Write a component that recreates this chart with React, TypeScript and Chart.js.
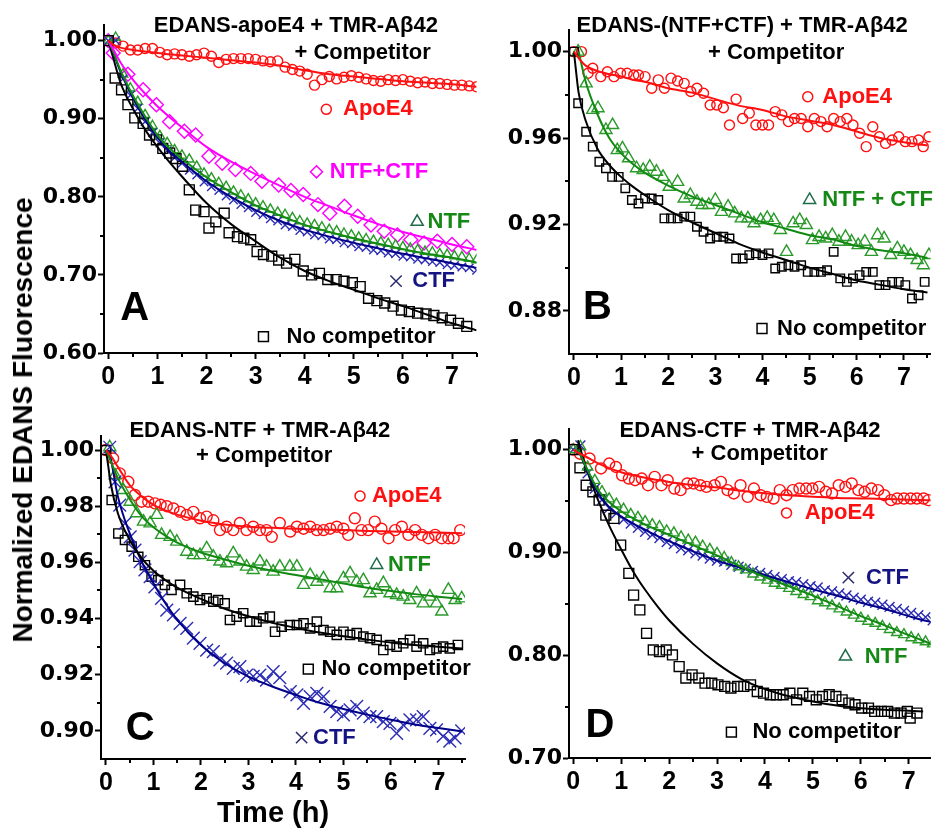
import React, { useEffect, useRef } from 'react';
import { Chart, registerables } from 'chart.js';
Chart.register(...registerables);

// ---------------- tick definitions ----------------
const X_TICKS = [0, 1, 2, 3, 4, 5, 6, 7];
const X_MINOR = [0.5, 1.5, 2.5, 3.5, 4.5, 5.5, 6.5, 7.5];
const A_Y_TICKS = [0.6, 0.7, 0.8, 0.9, 1.0];
const A_Y_MINOR = [0.65, 0.75, 0.85, 0.95];
const B_Y_TICKS = [0.88, 0.92, 0.96, 1.0];
const B_Y_MINOR = [0.9, 0.94, 0.98];
const C_Y_TICKS = [0.9, 0.92, 0.94, 0.96, 0.98, 1.0];
const C_Y_MINOR = [0.91, 0.93, 0.95, 0.97, 0.99];
const D_Y_TICKS = [0.7, 0.8, 0.9, 1.0];
const D_Y_MINOR = [0.75, 0.85, 0.95];

// common sampling times (h) for densely sampled traces
const T_GRID = [0, 0.15, 0.3, 0.45, 0.6, 0.75, 0.9, 1.05, 1.2, 1.35, 1.5, 1.65, 1.8, 1.95, 2.1, 2.25, 2.4, 2.55, 2.7, 2.85, 3, 3.15, 3.3, 3.45, 3.6, 3.75, 3.9, 4.05, 4.2, 4.35, 4.5, 4.65, 4.8, 4.95, 5.1, 5.25, 5.4, 5.55, 5.7, 5.85, 6, 6.15, 6.3, 6.45, 6.6, 6.75, 6.9, 7.05, 7.2, 7.35, 7.5];

// ---------------- Panel A: EDANS-apoE4 ----------------
const A_APOE4 = [1.000, 0.997, 0.993, 0.988, 0.988, 0.990, 0.990, 0.985, 0.982, 0.983, 0.982, 0.980, 0.982, 0.984, 0.980, 0.972, 0.976, 0.977, 0.977, 0.977, 0.976, 0.974, 0.973, 0.974, 0.966, 0.963, 0.961, 0.957, 0.943, 0.950, 0.954, 0.951, 0.953, 0.955, 0.953, 0.951, 0.949, 0.948, 0.950, 0.949, 0.950, 0.948, 0.946, 0.947, 0.945, 0.945, 0.944, 0.943, 0.943, 0.942, 0.941];
const A_NTFCTF_T = [0, 0.1, 0.4, 0.71, 0.98, 1.25, 1.55, 1.78, 2.05, 2.32, 2.59, 2.9, 3.13, 3.47, 3.72, 3.97, 4.27, 4.51, 4.81, 5.08, 5.35, 5.62, 5.89, 6.16, 6.43, 6.7, 7.0, 7.3];
const A_NTFCTF = [1.0, 0.984, 0.957, 0.937, 0.918, 0.896, 0.884, 0.879, 0.852, 0.843, 0.835, 0.830, 0.820, 0.815, 0.808, 0.803, 0.790, 0.779, 0.788, 0.775, 0.764, 0.756, 0.751, 0.745, 0.741, 0.743, 0.739, 0.736];
const A_NTF = [1.000, 1.004, 0.957, 0.939, 0.922, 0.905, 0.891, 0.878, 0.869, 0.860, 0.853, 0.848, 0.839, 0.830, 0.824, 0.818, 0.813, 0.807, 0.802, 0.797, 0.792, 0.788, 0.784, 0.780, 0.777, 0.773, 0.769, 0.766, 0.764, 0.761, 0.758, 0.756, 0.753, 0.751, 0.748, 0.746, 0.744, 0.742, 0.740, 0.738, 0.736, 0.734, 0.732, 0.730, 0.729, 0.727, 0.726, 0.724, 0.723, 0.721, 0.719];
const A_CTF = [1.000, 1.000, 0.951, 0.930, 0.913, 0.896, 0.882, 0.869, 0.859, 0.850, 0.843, 0.834, 0.828, 0.819, 0.813, 0.808, 0.801, 0.796, 0.790, 0.786, 0.780, 0.777, 0.772, 0.769, 0.764, 0.762, 0.757, 0.755, 0.751, 0.750, 0.746, 0.745, 0.741, 0.740, 0.736, 0.735, 0.732, 0.731, 0.728, 0.727, 0.724, 0.723, 0.720, 0.719, 0.717, 0.716, 0.713, 0.712, 0.710, 0.709, 0.706];
const A_NOCOMP_T = [0, 0.14, 0.27, 0.40, 0.54, 0.71, 0.84, 0.98, 1.11, 1.25, 1.38, 1.51, 1.65, 1.78, 1.95, 2.05, 2.19, 2.36, 2.46, 2.63, 2.76, 2.9, 3.03, 3.16, 3.33, 3.47, 3.63, 3.8, 3.97, 4.14, 4.3, 4.47, 4.64, 4.8, 4.97, 5.13, 5.3, 5.47, 5.63, 5.8, 5.97, 6.13, 6.3, 6.47, 6.63, 6.8, 6.97, 7.13, 7.3];
const A_NOCOMP = [1.0, 0.952, 0.937, 0.918, 0.901, 0.894, 0.879, 0.873, 0.862, 0.856, 0.849, 0.839, 0.809, 0.783, 0.781, 0.760, 0.768, 0.779, 0.754, 0.749, 0.747, 0.745, 0.730, 0.726, 0.724, 0.719, 0.715, 0.720, 0.705, 0.700, 0.702, 0.694, 0.694, 0.692, 0.690, 0.685, 0.670, 0.667, 0.664, 0.660, 0.655, 0.653, 0.651, 0.650, 0.648, 0.645, 0.642, 0.638, 0.634];
const A_FIT_T = [0, 0.1, 0.25, 0.5, 0.75, 1, 1.25, 1.5, 2, 2.5, 3, 3.5, 4, 4.5, 5, 5.5, 6, 6.5, 7, 7.5];
const A_FIT_APOE4 = [1.0, 0.995, 0.991, 0.988, 0.986, 0.984, 0.9825, 0.981, 0.978, 0.975, 0.972, 0.968, 0.962, 0.957, 0.954, 0.951, 0.948, 0.946, 0.944, 0.941];
const A_FIT_NTFCTF = [1.0, 0.989, 0.972, 0.950, 0.932, 0.916, 0.902, 0.889, 0.864, 0.845, 0.829, 0.814, 0.800, 0.788, 0.776, 0.765, 0.755, 0.747, 0.739, 0.732];
const A_FIT_NTF = [1.0, 0.986, 0.962, 0.930, 0.903, 0.879, 0.862, 0.849, 0.825, 0.806, 0.789, 0.776, 0.764, 0.755, 0.747, 0.740, 0.733, 0.727, 0.722, 0.716];
const A_FIT_CTF = [1.0, 0.985, 0.960, 0.927, 0.899, 0.876, 0.858, 0.845, 0.820, 0.800, 0.783, 0.769, 0.758, 0.749, 0.741, 0.734, 0.727, 0.721, 0.715, 0.709];
const A_FIT_NOCOMP = [1.0, 0.978, 0.946, 0.913, 0.886, 0.864, 0.844, 0.826, 0.792, 0.765, 0.743, 0.722, 0.705, 0.692, 0.681, 0.670, 0.660, 0.649, 0.638, 0.629];

// ---------------- Panel B: EDANS-(NTF+CTF) ----------------
const B_APOE4_T = [0, 0.16, 0.30, 0.40, 0.57, 0.71, 0.85, 0.99, 1.13, 1.27, 1.37, 1.51, 1.65, 1.79, 1.92, 2.06, 2.2, 2.34, 2.48, 2.61, 2.75, 2.89, 3.03, 3.17, 3.3, 3.44, 3.58, 3.72, 3.86, 4.0, 4.13, 4.27, 4.41, 4.55, 4.68, 4.82, 4.96, 5.1, 5.24, 5.37, 5.51, 5.65, 5.79, 5.92, 6.06, 6.2, 6.34, 6.48, 6.61, 6.75, 6.89, 7.03, 7.17, 7.31, 7.41, 7.53];
const B_APOE4 = [1.0, 1.0, 0.990, 0.9923, 0.9884, 0.9907, 0.9884, 0.990, 0.990, 0.9892, 0.9892, 0.9884, 0.983, 0.9869, 0.983, 0.9877, 0.9864, 0.9853, 0.9815, 0.983, 0.9807, 0.9753, 0.9753, 0.974, 0.966, 0.978, 0.969, 0.9715, 0.966, 0.966, 0.966, 0.9722, 0.9707, 0.9676, 0.969, 0.969, 0.9652, 0.969, 0.9676, 0.9652, 0.969, 0.9676, 0.969, 0.966, 0.9622, 0.956, 0.9652, 0.9606, 0.9575, 0.9591, 0.9606, 0.9583, 0.9583, 0.9591, 0.956, 0.9606];
const B_NTFCTF_T = [0.09, 0.26, 0.40, 0.51, 0.68, 0.82, 0.92, 1.03, 1.16, 1.33, 1.47, 1.61, 1.75, 1.89, 2.02, 2.2, 2.34, 2.47, 2.61, 2.72, 2.86, 3.0, 3.13, 3.27, 3.41, 3.55, 3.69, 3.82, 3.96, 4.1, 4.24, 4.38, 4.51, 4.65, 4.79, 4.93, 5.06, 5.2, 5.34, 5.48, 5.62, 5.76, 5.89, 6.03, 6.17, 6.31, 6.44, 6.58, 6.72, 6.86, 7.0, 7.14, 7.28, 7.41, 7.53];
const B_NTFCTF = [1.0, 0.9853, 0.973, 0.9738, 0.9637, 0.966, 0.9544, 0.9552, 0.9506, 0.946, 0.9452, 0.9467, 0.9444, 0.942, 0.9374, 0.9397, 0.932, 0.9336, 0.9305, 0.929, 0.929, 0.9313, 0.9258, 0.9282, 0.9251, 0.9228, 0.9228, 0.9205, 0.922, 0.923, 0.922, 0.9174, 0.9073, 0.9205, 0.922, 0.9197, 0.9127, 0.9142, 0.9135, 0.915, 0.912, 0.9142, 0.912, 0.9104, 0.912, 0.9073, 0.915, 0.9135, 0.9058, 0.9089, 0.9073, 0.9058, 0.9035, 0.9011, 0.9058];
const B_NOCOMP_T = [0, 0.09, 0.26, 0.40, 0.54, 0.68, 0.81, 0.95, 1.09, 1.23, 1.37, 1.51, 1.65, 1.79, 1.92, 2.06, 2.2, 2.34, 2.47, 2.61, 2.75, 2.89, 3.03, 3.17, 3.3, 3.44, 3.58, 3.72, 3.86, 4.0, 4.13, 4.27, 4.41, 4.55, 4.68, 4.82, 4.96, 5.1, 5.24, 5.37, 5.51, 5.65, 5.79, 5.92, 6.06, 6.2, 6.34, 6.48, 6.61, 6.75, 6.89, 7.03, 7.17, 7.31, 7.44];
const B_NOCOMP = [1.0, 0.9761, 0.9629, 0.956, 0.949, 0.946, 0.942, 0.942, 0.9367, 0.9313, 0.9297, 0.932, 0.932, 0.9313, 0.9228, 0.9228, 0.9228, 0.9236, 0.9236, 0.9189, 0.9166, 0.9135, 0.9143, 0.9143, 0.9135, 0.9042, 0.9042, 0.9058, 0.9066, 0.9058, 0.9066, 0.8996, 0.9004, 0.9011, 0.9004, 0.9011, 0.898, 0.898, 0.898, 0.8988, 0.9073, 0.895, 0.8934, 0.895, 0.8965, 0.898, 0.898, 0.8919, 0.8919, 0.8934, 0.8934, 0.8919, 0.8857, 0.8872, 0.8934];
const B_FIT_T = [0, 0.05, 0.1, 0.25, 0.5, 0.75, 1, 1.25, 1.5, 2, 2.5, 3, 3.5, 4, 4.5, 5, 5.5, 6, 6.5, 7, 7.5];
const B_FIT_APOE4 = [1.0, 0.9985, 0.997, 0.9935, 0.991, 0.9895, 0.9885, 0.987, 0.986, 0.983, 0.981, 0.978, 0.975, 0.973, 0.970, 0.968, 0.966, 0.963, 0.960, 0.958, 0.9565];
const B_FIT_NTFCTF = [null, null, 1.0, 0.986, 0.971, 0.960, 0.953, 0.948, 0.944, 0.938, 0.933, 0.929, 0.925, 0.921, 0.918, 0.915, 0.913, 0.910, 0.908, 0.9066, 0.9045];
const B_FIT_NOCOMP = [1.0, 0.990, 0.981, 0.968, 0.955, 0.9475, 0.942, 0.9375, 0.9336, 0.9266, 0.921, 0.916, 0.911, 0.907, 0.9035, 0.900, 0.897, 0.894, 0.892, 0.890, 0.8885];

// ---------------- Panel C: EDANS-NTF ----------------
const C_APOE4_T = [0, 0.15, 0.29, 0.47, 0.61, 0.75, 0.89, 1.03, 1.15, 1.28, 1.42, 1.56, 1.7, 1.84, 1.98, 2.12, 2.26, 2.4, 2.54, 2.68, 2.82, 2.96, 3.1, 3.24, 3.38, 3.49, 3.66, 3.88, 4.02, 4.16, 4.3, 4.44, 4.58, 4.72, 4.86, 5.0, 5.1, 5.24, 5.38, 5.52, 5.66, 5.8, 5.95, 6.09, 6.23, 6.37, 6.51, 6.65, 6.79, 6.93, 7.07, 7.21, 7.32, 7.46];
const C_APOE4 = [1.0, 0.997, 0.9917, 0.9887, 0.984, 0.9816, 0.9816, 0.981, 0.9805, 0.980, 0.9792, 0.978, 0.9769, 0.978, 0.9757, 0.9763, 0.975, 0.9715, 0.9727, 0.9715, 0.974, 0.9715, 0.9727, 0.9715, 0.9715, 0.9691, 0.974, 0.971, 0.9727, 0.972, 0.9727, 0.9715, 0.9715, 0.972, 0.9727, 0.972, 0.9698, 0.9757, 0.9715, 0.9715, 0.9745, 0.972, 0.9686, 0.9715, 0.9727, 0.9698, 0.9715, 0.9698, 0.9686, 0.9698, 0.9686, 0.9686, 0.9686, 0.9715];
const C_NTF_T = [0.08, 0.19, 0.36, 0.51, 0.65, 0.79, 0.93, 1.07, 1.17, 1.35, 1.49, 1.7, 1.84, 1.98, 2.12, 2.26, 2.4, 2.54, 2.68, 2.82, 2.96, 3.1, 3.24, 3.38, 3.52, 3.66, 3.87, 4.02, 4.16, 4.3, 4.44, 4.58, 4.72, 4.86, 5.0, 5.14, 5.28, 5.42, 5.56, 5.7, 5.84, 5.98, 6.12, 6.26, 6.4, 6.54, 6.68, 6.82, 6.96, 7.07, 7.21, 7.35, 7.49];
const C_NTF = [1.001, 0.991, 0.9858, 0.9816, 0.9775, 0.9745, 0.9739, 0.9769, 0.9698, 0.9691, 0.9674, 0.9638, 0.9626, 0.9626, 0.965, 0.962, 0.9603, 0.9597, 0.9632, 0.9603, 0.9585, 0.9573, 0.9603, 0.9585, 0.9567, 0.9585, 0.9585, 0.9585, 0.952, 0.9555, 0.9531, 0.9543, 0.9508, 0.9508, 0.9543, 0.9561, 0.9531, 0.9537, 0.949, 0.9502, 0.9526, 0.949, 0.9484, 0.9478, 0.9466, 0.949, 0.9454, 0.9478, 0.9454, 0.9425, 0.9502, 0.9466, 0.9472];
const C_NOCOMP_T = [0, 0.12, 0.26, 0.40, 0.54, 0.68, 0.82, 0.96, 1.1, 1.24, 1.38, 1.56, 1.7, 1.84, 1.98, 2.12, 2.26, 2.36, 2.5, 2.61, 2.75, 2.89, 3.03, 3.17, 3.31, 3.45, 3.56, 3.7, 3.87, 4.02, 4.16, 4.3, 4.44, 4.58, 4.72, 4.86, 5.0, 5.14, 5.28, 5.42, 5.56, 5.7, 5.84, 5.98, 6.12, 6.26, 6.4, 6.54, 6.68, 6.82, 6.96, 7.1, 7.24, 7.41];
const C_NOCOMP = [1.0, 0.9822, 0.9703, 0.968, 0.9656, 0.962, 0.959, 0.9549, 0.9537, 0.952, 0.9502, 0.952, 0.949, 0.9478, 0.9466, 0.9472, 0.946, 0.9466, 0.9454, 0.9395, 0.9407, 0.9419, 0.9389, 0.9389, 0.9401, 0.9407, 0.9353, 0.9371, 0.9377, 0.9377, 0.9383, 0.9365, 0.9389, 0.9359, 0.9353, 0.9342, 0.9353, 0.9342, 0.9348, 0.9336, 0.933, 0.9324, 0.9288, 0.9306, 0.93, 0.9312, 0.9324, 0.93, 0.9312, 0.9288, 0.9294, 0.93, 0.9294, 0.9306];
const C_CTF_T = [0.08, 0.19, 0.29, 0.4, 0.51, 0.61, 0.72, 0.82, 0.93, 1.03, 1.17, 1.28, 1.42, 1.56, 1.7, 1.84, 1.98, 2.12, 2.26, 2.4, 2.54, 2.68, 2.82, 2.96, 3.1, 3.24, 3.38, 3.52, 3.66, 3.88, 4.02, 4.16, 4.3, 4.44, 4.58, 4.72, 4.86, 5.0, 5.14, 5.28, 5.42, 5.56, 5.7, 5.84, 5.98, 6.12, 6.26, 6.4, 6.54, 6.68, 6.82, 6.96, 7.1, 7.24, 7.35, 7.49];
const C_CTF = [1.001, 0.9887, 0.9804, 0.9739, 0.9691, 0.9644, 0.9603, 0.9573, 0.9549, 0.9513, 0.9472, 0.943, 0.9413, 0.9383, 0.9365, 0.933, 0.9312, 0.9288, 0.9282, 0.9253, 0.9241, 0.9223, 0.9229, 0.9199, 0.9194, 0.9199, 0.9181, 0.9211, 0.919, 0.914, 0.9128, 0.9098, 0.9122, 0.9134, 0.9122, 0.9087, 0.9069, 0.9057, 0.9075, 0.9087, 0.9063, 0.9051, 0.9051, 0.9033, 0.9027, 0.8991, 0.9021, 0.9039, 0.9039, 0.9051, 0.9009, 0.9004, 0.8981, 0.8964, 0.8975, 0.900];
const C_FIT_T = [0, 0.05, 0.1, 0.25, 0.5, 0.75, 1, 1.25, 1.5, 2, 2.5, 3, 3.5, 4, 4.5, 5, 5.5, 6, 6.5, 7, 7.5];
const C_FIT_APOE4 = [1.0, 0.999, 0.998, 0.994, 0.9875, 0.9835, 0.9805, 0.9785, 0.977, 0.9748, 0.9735, 0.9727, 0.9723, 0.972, 0.9717, 0.9715, 0.9712, 0.971, 0.9708, 0.9706, 0.9704];
const C_FIT_NTF = [1.0, 0.998, 0.996, 0.990, 0.9825, 0.9765, 0.9725, 0.9695, 0.967, 0.9635, 0.961, 0.9588, 0.957, 0.9555, 0.954, 0.9525, 0.951, 0.9498, 0.9487, 0.9478, 0.947];
const C_FIT_NOCOMP = [1.0, 0.994, 0.988, 0.9775, 0.968, 0.9615, 0.957, 0.9537, 0.951, 0.947, 0.9435, 0.9408, 0.9385, 0.9367, 0.935, 0.9337, 0.9325, 0.9315, 0.9306, 0.930, 0.9293];
const C_FIT_CTF = [null, 1.0, 0.997, 0.9835, 0.9703, 0.9603, 0.9525, 0.9455, 0.9395, 0.9306, 0.9241, 0.9193, 0.9158, 0.9128, 0.910, 0.9078, 0.9058, 0.904, 0.9023, 0.901, 0.8998];

// ---------------- Panel D: EDANS-CTF ----------------
const D_APOE4_T = [0, 0.14, 0.34, 0.58, 0.75, 0.89, 1.02, 1.16, 1.29, 1.43, 1.56, 1.7, 1.84, 1.97, 2.11, 2.24, 2.38, 2.51, 2.65, 2.78, 2.95, 3.08, 3.22, 3.35, 3.49, 3.64, 3.77, 3.91, 4.04, 4.18, 4.31, 4.45, 4.58, 4.72, 4.86, 4.99, 5.13, 5.27, 5.4, 5.54, 5.68, 5.81, 5.95, 6.08, 6.22, 6.36, 6.49, 6.63, 6.76, 6.9, 7.04, 7.17, 7.31, 7.41];
const D_APOE4 = [1.0, 0.996, 0.9913, 0.9816, 0.9864, 0.9831, 0.975, 0.9718, 0.9702, 0.9718, 0.9653, 0.9734, 0.9653, 0.9702, 0.9621, 0.9605, 0.967, 0.967, 0.9653, 0.9637, 0.9653, 0.9686, 0.9605, 0.9573, 0.9653, 0.954, 0.9621, 0.9556, 0.954, 0.9524, 0.9605, 0.9556, 0.9605, 0.9621, 0.9621, 0.9621, 0.9637, 0.9589, 0.9573, 0.9653, 0.9637, 0.967, 0.9605, 0.9589, 0.9621, 0.9605, 0.9556, 0.9508, 0.9524, 0.9524, 0.9524, 0.9524, 0.9524, 0.9508];
const D_NTF = [1.000, 1.003, 0.983, 0.970, 0.959, 0.952, 0.947, 0.942, 0.937, 0.934, 0.930, 0.927, 0.925, 0.921, 0.919, 0.915, 0.912, 0.910, 0.906, 0.903, 0.899, 0.895, 0.890, 0.886, 0.883, 0.879, 0.876, 0.873, 0.870, 0.868, 0.865, 0.862, 0.859, 0.857, 0.853, 0.851, 0.848, 0.845, 0.842, 0.839, 0.836, 0.833, 0.831, 0.828, 0.825, 0.822, 0.820, 0.817, 0.815, 0.813, 0.811];
const D_CTF = [1.000, 1.004, 0.977, 0.962, 0.951, 0.943, 0.938, 0.932, 0.928, 0.924, 0.920, 0.917, 0.914, 0.910, 0.908, 0.904, 0.902, 0.899, 0.897, 0.894, 0.892, 0.891, 0.888, 0.886, 0.884, 0.882, 0.880, 0.878, 0.876, 0.874, 0.872, 0.871, 0.869, 0.867, 0.866, 0.863, 0.862, 0.860, 0.858, 0.856, 0.854, 0.852, 0.851, 0.849, 0.847, 0.845, 0.843, 0.841, 0.839, 0.837, 0.834];
const D_NOCOMP_T = [0, 0.14, 0.27, 0.41, 0.54, 0.68, 0.85, 0.99, 1.16, 1.26, 1.39, 1.53, 1.67, 1.8, 1.94, 2.07, 2.21, 2.35, 2.48, 2.62, 2.75, 2.89, 3.02, 3.16, 3.29, 3.43, 3.56, 3.7, 3.84, 3.97, 4.11, 4.24, 4.38, 4.52, 4.66, 4.79, 4.93, 5.07, 5.2, 5.34, 5.48, 5.61, 5.75, 5.88, 6.02, 6.16, 6.29, 6.43, 6.56, 6.7, 6.84, 6.97, 7.03, 7.17];
const D_NOCOMP = [1.0, 0.9822, 0.9653, 0.9589, 0.9508, 0.9362, 0.933, 0.9071, 0.8796, 0.8585, 0.844, 0.8213, 0.8051, 0.8035, 0.8051, 0.8003, 0.7889, 0.7777, 0.7809, 0.7777, 0.7728, 0.7728, 0.7712, 0.7696, 0.768, 0.7696, 0.7696, 0.7712, 0.7647, 0.7631, 0.7615, 0.7615, 0.7615, 0.7631, 0.7566, 0.7631, 0.7599, 0.7566, 0.7599, 0.7615, 0.7599, 0.7566, 0.7534, 0.7518, 0.7486, 0.7486, 0.7453, 0.7453, 0.7453, 0.7437, 0.7437, 0.7453, 0.7388, 0.7437];
const D_FIT_T = [0, 0.1, 0.25, 0.5, 0.75, 1, 1.25, 1.5, 1.75, 2, 2.5, 3, 3.5, 4, 4.5, 5, 5.5, 6, 6.5, 7, 7.3, 7.5];
const D_FIT_APOE4 = [1.0, 0.997, 0.9935, 0.987, 0.982, 0.978, 0.975, 0.9725, 0.9705, 0.9685, 0.9655, 0.963, 0.960, 0.9575, 0.9555, 0.954, 0.953, 0.9525, 0.952, 0.9512, 0.9509, 0.9507];
const D_FIT_NTF = [null, 1.0, 0.985, 0.962, 0.949, 0.940, 0.933, 0.927, 0.922, 0.917, 0.907, 0.897, 0.886, 0.876, 0.867, 0.858, 0.848, 0.838, 0.829, 0.8195, 0.814, 0.810];
const D_FIT_CTF = [null, 1.0, 0.984, 0.959, 0.944, 0.935, 0.928, 0.922, 0.916, 0.911, 0.901, 0.892, 0.885, 0.878, 0.871, 0.864, 0.858, 0.851, 0.845, 0.838, 0.834, 0.832];
const D_FIT_NOCOMP = [null, 1.009, 0.985, 0.953, 0.926, 0.903, 0.8815, 0.8636, 0.848, 0.834, 0.811, 0.792, 0.777, 0.767, 0.760, 0.755, 0.751, 0.7485, 0.747, 0.746, 0.7453, null];

// ---------------- styles ----------------
const RED = '#ff1010';
const MAG = '#ff00ff';
const GRN_PT = '#2a9a2a';
const GRN_LN = '#128a12';
const GRN_TX = '#168816';
const GRN_MK = '#1f6b4a';
const BLU_PT = '#2c2cb4';
const BLU_LN = '#000088';
const BLU_TX = '#141482';
const BLU_MK = '#2a2a70';
const BLK = '#000000';
const SANS = "'Liberation Sans', Arial, sans-serif";
const TITLE_FONT = `bold 22px ${SANS}`;
const LABEL_FONT = `bold 22px ${SANS}`;
const LETTER_FONT = `bold 40px 'Liberation Sans Narrow', ${SANS}`;
const MARK_LW = 1.4;

type Pts = { t: number[]; v: number[]; color: string; style: string; r: number };
type Fit = { t: number[]; v: (number | null)[]; color: string };
type Note = { x: number; y: number; text?: string; color: string; font?: string; align?: CanvasTextAlign; marker?: string; r?: number };
type PanelCfg = {
  left: number; top: number; w: number; h: number;
  pad: { left: number; top: number; right: number; bottom: number };
  yW: number; xH: number;
  xMin: number; xMax: number; yMin: number; yMax: number;
  yTicks: number[]; yMinor: number[];
  fits: Fit[]; pts: Pts[]; notes: Note[];
};

function toXY(t: number[], v: (number | null)[]) {
  const out: { x: number; y: number }[] = [];
  for (let i = 0; i < t.length; i++) {
    const y = v[i];
    if (y !== null && y !== undefined) out.push({ x: t[i], y });
  }
  return out;
}

function drawMarker(ctx: CanvasRenderingContext2D, style: string, x: number, y: number, r: number, color: string) {
  ctx.save();
  ctx.strokeStyle = color;
  ctx.lineWidth = 1.5;
  ctx.beginPath();
  if (style === 'circle') {
    ctx.arc(x, y, r, 0, Math.PI * 2);
  } else if (style === 'rect') {
    const s = Math.SQRT1_2 * r;
    ctx.rect(x - s, y - s, 2 * s, 2 * s);
  } else if (style === 'rectRot') {
    ctx.moveTo(x - r, y); ctx.lineTo(x, y - r); ctx.lineTo(x + r, y); ctx.lineTo(x, y + r); ctx.closePath();
  } else if (style === 'triangle') {
    ctx.moveTo(x, y - r);
    ctx.lineTo(x + 0.866 * r, y + 0.5 * r);
    ctx.lineTo(x - 0.866 * r, y + 0.5 * r);
    ctx.closePath();
  } else if (style === 'crossRot') {
    const o = Math.SQRT1_2 * r;
    ctx.moveTo(x - o, y - o); ctx.lineTo(x + o, y + o);
    ctx.moveTo(x + o, y - o); ctx.lineTo(x - o, y + o);
  }
  ctx.stroke();
  ctx.restore();
}

function makeNotesPlugin(notes: Note[]) {
  return {
    id: 'notes',
    afterDatasetsDraw(chart: any) {
      const { ctx, scales } = chart;
      for (const n of notes) {
        const px = scales.x.getPixelForValue(n.x);
        const py = scales.y.getPixelForValue(n.y);
        if (n.marker) {
          drawMarker(ctx, n.marker, px, py, n.r || 5, n.color);
        } else if (n.text) {
          ctx.save();
          ctx.font = n.font || LABEL_FONT;
          ctx.fillStyle = n.color;
          ctx.textAlign = n.align || 'left';
          ctx.textBaseline = 'middle';
          ctx.fillText(n.text, px, py);
          ctx.restore();
        }
      }
    },
  };
}

function makeMinorPlugin(xMinor: number[], yMinor: number[]) {
  return {
    id: 'minorTicks',
    afterDraw(chart: any) {
      const { ctx, chartArea: ca, scales } = chart;
      ctx.save();
      ctx.strokeStyle = '#000';
      ctx.lineWidth = 2;
      ctx.beginPath();
      for (const v of xMinor) {
        if (v < scales.x.min || v > scales.x.max) continue;
        const px = Math.round(scales.x.getPixelForValue(v));
        ctx.moveTo(px, ca.bottom);
        ctx.lineTo(px, ca.bottom + 4);
      }
      for (const v of yMinor) {
        if (v < scales.y.min || v > scales.y.max) continue;
        const py = Math.round(scales.y.getPixelForValue(v));
        ctx.moveTo(ca.left, py);
        ctx.lineTo(ca.left - 4, py);
      }
      ctx.stroke();
      ctx.restore();
    },
  };
}

function buildConfig(cfg: PanelCfg): any {
  const datasets: any[] = [];
  for (const f of cfg.fits) {
    datasets.push({
      data: toXY(f.t, f.v), showLine: true, borderColor: f.color, borderWidth: 2,
      pointRadius: 0, cubicInterpolationMode: 'monotone', fill: false, order: 0,
    });
  }
  for (const p of cfg.pts) {
    datasets.push({
      data: toXY(p.t, p.v), showLine: false, pointStyle: p.style, pointRadius: p.r,
      borderColor: p.color, pointBorderColor: p.color, backgroundColor: 'rgba(0,0,0,0)',
      pointBackgroundColor: 'rgba(0,0,0,0)', pointBorderWidth: MARK_LW, borderWidth: MARK_LW, order: 1,
    });
  }
  const axisGrid = { display: true, drawOnChartArea: false, drawTicks: true, tickLength: 6, tickWidth: 2, tickColor: '#000', color: '#000' };
  return {
    type: 'scatter',
    data: { datasets },
    options: {
      responsive: false, maintainAspectRatio: false, animation: false, events: [],
      layout: { padding: cfg.pad },
      plugins: { legend: { display: false }, tooltip: { enabled: false }, title: { display: false } },
      scales: {
        x: {
          type: 'linear', position: 'bottom', min: cfg.xMin, max: cfg.xMax,
          afterBuildTicks: (s: any) => { s.ticks = X_TICKS.map((value) => ({ value })); },
          afterFit: (s: any) => { s.height = cfg.xH; },
          ticks: { color: '#000', padding: 3, autoSkip: false, maxRotation: 0, font: { family: SANS, size: 25, weight: 'bold' }, callback: (v: any) => String(v) },
          grid: axisGrid,
          border: { display: true, color: '#000', width: 2 },
        },
        y: {
          type: 'linear', position: 'left', min: cfg.yMin, max: cfg.yMax,
          afterBuildTicks: (s: any) => { s.ticks = cfg.yTicks.map((value) => ({ value })); },
          afterFit: (s: any) => { s.width = cfg.yW; },
          ticks: { color: '#000', padding: 1, autoSkip: false, font: { family: "'DejaVu Sans', sans-serif", size: 22, weight: 'bold' }, callback: (v: any) => Number(v).toFixed(2) },
          grid: axisGrid,
          border: { display: true, color: '#000', width: 2 },
        },
      },
    },
    plugins: [makeNotesPlugin(cfg.notes), makeMinorPlugin(X_MINOR, cfg.yMinor)],
  };
}

const PANEL_A: PanelCfg = {
  left: 0, top: 0, w: 485, h: 400, pad: { left: 0, top: 25, right: 5, bottom: 0 }, yW: 104, xH: 47,
  xMin: -0.087, xMax: 7.5, yMin: 0.6, yMax: 1.02, yTicks: A_Y_TICKS, yMinor: A_Y_MINOR,
  fits: [
    { t: A_FIT_T, v: A_FIT_APOE4, color: RED },
    { t: A_FIT_T, v: A_FIT_NTFCTF, color: MAG },
    { t: A_FIT_T, v: A_FIT_NTF, color: GRN_LN },
    { t: A_FIT_T, v: A_FIT_CTF, color: BLU_LN },
    { t: A_FIT_T, v: A_FIT_NOCOMP, color: BLK },
  ],
  pts: [
    { t: A_NOCOMP_T, v: A_NOCOMP, color: BLK, style: 'rect', r: 7 },
    { t: T_GRID, v: A_CTF, color: BLU_PT, style: 'crossRot', r: 6 },
    { t: T_GRID, v: A_NTF, color: GRN_PT, style: 'triangle', r: 5.5 },
    { t: A_NTFCTF_T, v: A_NTFCTF, color: MAG, style: 'rectRot', r: 7 },
    { t: T_GRID, v: A_APOE4, color: RED, style: 'circle', r: 5 },
  ],
  notes: [
    { x: 3.82, y: 1.0188, text: 'EDANS-apoE4 + TMR-Aβ42', color: BLK, font: TITLE_FONT, align: 'center' },
    { x: 5.18, y: 0.984, text: '+ Competitor', color: BLK, font: TITLE_FONT, align: 'center' },
    { x: 4.44, y: 0.912, marker: 'circle', r: 5, color: RED },
    { x: 4.78, y: 0.912, text: 'ApoE4', color: RED },
    { x: 4.24, y: 0.832, marker: 'rectRot', r: 6, color: MAG },
    { x: 4.51, y: 0.832, text: 'NTF+CTF', color: MAG },
    { x: 6.29, y: 0.768, marker: 'triangle', r: 7, color: GRN_MK },
    { x: 6.5, y: 0.768, text: 'NTF', color: GRN_TX },
    { x: 5.86, y: 0.692, marker: 'crossRot', r: 8, color: BLU_MK },
    { x: 6.19, y: 0.692, text: 'CTF', color: BLU_TX },
    { x: 3.16, y: 0.621, marker: 'rect', r: 7, color: BLK },
    { x: 3.63, y: 0.621, text: 'No competitor', color: BLK },
    { x: 0.54, y: 0.657, text: 'A', color: BLK, font: LETTER_FONT, align: 'center' },
  ],
};

const PANEL_B: PanelCfg = {
  left: 485, top: 0, w: 454, h: 400, pad: { left: 0, top: 30, right: 0, bottom: 0 }, yW: 84, xH: 46,
  xMin: -0.104, xMax: 7.566, yMin: 0.86, yMax: 1.01, yTicks: B_Y_TICKS, yMinor: B_Y_MINOR,
  fits: [
    { t: B_FIT_T, v: B_FIT_APOE4, color: RED },
    { t: B_FIT_T, v: B_FIT_NTFCTF, color: GRN_LN },
    { t: B_FIT_T, v: B_FIT_NOCOMP, color: BLK },
  ],
  pts: [
    { t: B_NOCOMP_T, v: B_NOCOMP, color: BLK, style: 'rect', r: 6 },
    { t: B_NTFCTF_T, v: B_NTFCTF, color: GRN_PT, style: 'triangle', r: 7 },
    { t: B_APOE4_T, v: B_APOE4, color: RED, style: 'circle', r: 5 },
  ],
  notes: [
    { x: 3.57, y: 1.0119, text: 'EDANS-(NTF+CTF) + TMR-Aβ42', color: BLK, font: TITLE_FONT, align: 'center' },
    { x: 4.29, y: 0.9994, text: '+ Competitor', color: BLK, font: TITLE_FONT, align: 'center' },
    { x: 4.96, y: 0.9791, marker: 'circle', r: 5, color: RED },
    { x: 5.27, y: 0.9791, text: 'ApoE4', color: RED },
    { x: 5.0, y: 0.9313, marker: 'triangle', r: 7, color: GRN_MK },
    { x: 5.27, y: 0.9313, text: 'NTF + CTF', color: GRN_TX },
    { x: 3.99, y: 0.8718, marker: 'rect', r: 7, color: BLK },
    { x: 4.31, y: 0.8718, text: 'No competitor', color: BLK },
    { x: 0.5, y: 0.8812, text: 'B', color: BLK, font: LETTER_FONT, align: 'center' },
  ],
};

const PANEL_C: PanelCfg = {
  left: 0, top: 400, w: 485, h: 430, pad: { left: 0, top: 36, right: 20, bottom: 0 }, yW: 101, xH: 71,
  xMin: -0.105, xMax: 7.56, yMin: 0.89, yMax: 1.005, yTicks: C_Y_TICKS, yMinor: C_Y_MINOR,
  fits: [
    { t: C_FIT_T, v: C_FIT_APOE4, color: RED },
    { t: C_FIT_T, v: C_FIT_NTF, color: GRN_LN },
    { t: C_FIT_T, v: C_FIT_NOCOMP, color: BLK },
    { t: C_FIT_T, v: C_FIT_CTF, color: BLU_LN },
  ],
  pts: [
    { t: C_CTF_T, v: C_CTF, color: BLU_PT, style: 'crossRot', r: 9 },
    { t: C_NOCOMP_T, v: C_NOCOMP, color: BLK, style: 'rect', r: 6.5 },
    { t: C_NTF_T, v: C_NTF, color: GRN_PT, style: 'triangle', r: 7 },
    { t: C_APOE4_T, v: C_APOE4, color: RED, style: 'circle', r: 5.5 },
  ],
  notes: [
    { x: 3.24, y: 1.0068, text: 'EDANS-NTF + TMR-Aβ42', color: BLK, font: TITLE_FONT, align: 'center' },
    { x: 3.33, y: 0.9979, text: '+ Competitor', color: BLK, font: TITLE_FONT, align: 'center' },
    { x: 5.35, y: 0.9836, marker: 'circle', r: 5, color: RED },
    { x: 5.6, y: 0.9836, text: 'ApoE4', color: RED },
    { x: 5.7, y: 0.9591, marker: 'triangle', r: 7, color: GRN_MK },
    { x: 5.94, y: 0.9591, text: 'NTF', color: GRN_TX },
    { x: 4.26, y: 0.922, marker: 'rect', r: 7, color: BLK },
    { x: 4.54, y: 0.922, text: 'No competitor', color: BLK },
    { x: 4.12, y: 0.8976, marker: 'crossRot', r: 8, color: BLU_MK },
    { x: 4.36, y: 0.8976, text: 'CTF', color: BLU_TX },
    { x: 0.72, y: 0.9007, text: 'C', color: BLK, font: LETTER_FONT, align: 'center' },
  ],
};

const PANEL_D: PanelCfg = {
  left: 485, top: 400, w: 454, h: 430, pad: { left: 0, top: 29, right: 0, bottom: 0 }, yW: 84, xH: 72,
  xMin: -0.088, xMax: 7.456, yMin: 0.7, yMax: 1.02, yTicks: D_Y_TICKS, yMinor: D_Y_MINOR,
  fits: [
    { t: D_FIT_T, v: D_FIT_APOE4, color: RED },
    { t: D_FIT_T, v: D_FIT_NTF, color: GRN_LN },
    { t: D_FIT_T, v: D_FIT_CTF, color: BLU_LN },
    { t: D_FIT_T, v: D_FIT_NOCOMP, color: BLK },
  ],
  pts: [
    { t: D_NOCOMP_T, v: D_NOCOMP, color: BLK, style: 'rect', r: 7 },
    { t: T_GRID, v: D_NTF, color: GRN_PT, style: 'triangle', r: 6 },
    { t: T_GRID, v: D_CTF, color: BLU_PT, style: 'crossRot', r: 7 },
    { t: D_APOE4_T, v: D_APOE4, color: RED, style: 'circle', r: 5.5 },
  ],
  notes: [
    { x: 3.69, y: 1.0178, text: 'EDANS-CTF + TMR-Aβ42', color: BLK, font: TITLE_FONT, align: 'center' },
    { x: 3.89, y: 0.9954, text: '+ Competitor', color: BLK, font: TITLE_FONT, align: 'center' },
    { x: 4.45, y: 0.9384, marker: 'circle', r: 5, color: RED },
    { x: 4.83, y: 0.9384, text: 'ApoE4', color: RED },
    { x: 5.74, y: 0.8754, marker: 'crossRot', r: 8, color: BLU_MK },
    { x: 6.11, y: 0.8754, text: 'CTF', color: BLU_TX },
    { x: 5.68, y: 0.7987, marker: 'triangle', r: 7, color: GRN_MK },
    { x: 6.08, y: 0.7987, text: 'NTF', color: GRN_TX },
    { x: 3.3, y: 0.7252, marker: 'rect', r: 7, color: BLK },
    { x: 3.74, y: 0.7252, text: 'No competitor', color: BLK },
    { x: 0.56, y: 0.7312, text: 'D', color: BLK, font: LETTER_FONT, align: 'center' },
  ],
};

function Panel({ cfg }: { cfg: PanelCfg }) {
  const ref = useRef<HTMLCanvasElement | null>(null);
  useEffect(() => {
    if (!ref.current) return;
    const chart = new Chart(ref.current, buildConfig(cfg));
    return () => chart.destroy();
  }, [cfg]);
  return (
    <canvas
      ref={ref}
      width={cfg.w}
      height={cfg.h}
      style={{ position: 'absolute', left: cfg.left, top: cfg.top, width: cfg.w, height: cfg.h }}
    />
  );
}

export default function App() {
  return (
    <div style={{ position: 'absolute', left: 0, top: 0, width: 939, height: 830, background: '#fff', overflow: 'hidden' }}>
      <Panel cfg={PANEL_A} />
      <Panel cfg={PANEL_B} />
      <Panel cfg={PANEL_C} />
      <Panel cfg={PANEL_D} />
      <div
        style={{
          position: 'absolute', left: 23, top: 420, transform: 'translate(-50%, -50%) rotate(-90deg)',
          font: `bold 28px ${SANS}`, whiteSpace: 'nowrap', color: '#000', lineHeight: 1,
        }}
      >
        Normalized EDANS Fluorescence
      </div>
      <div
        style={{
          position: 'absolute', left: 273, top: 812, transform: 'translate(-50%, -50%)',
          font: `bold 29px ${SANS}`, whiteSpace: 'nowrap', color: '#000', lineHeight: 1,
        }}
      >
        Time (h)
      </div>
    </div>
  );
}
